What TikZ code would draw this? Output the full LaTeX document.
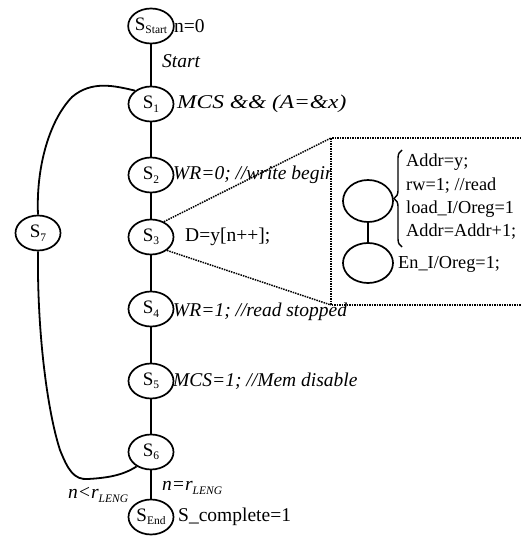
\documentclass[tikz,border=0pt]{standalone}
\usepackage{fontspec}
\setmainfont{Liberation Serif}
\usetikzlibrary{shapes.geometric,decorations.pathreplacing}
\newcommand{\mysub}[1]{\raisebox{-0.4ex}{\fontsize{11.5}{11.5}\selectfont #1}}
\begin{document}
\begin{tikzpicture}[x=1pt,y=-1pt,
  st/.style={ellipse,draw,line width=1.7pt,minimum width=45pt,minimum height=35pt,inner sep=0pt,font=\fontsize{19}{19}\selectfont},
  lbl/.style={anchor=west,inner sep=0pt,font=\fontsize{19.5}{20}\selectfont},
  ilbl/.style={anchor=west,inner sep=0pt,font=\fontsize{19.5}{20}\selectfont\itshape},
  inl/.style={anchor=west,inner sep=0pt,font=\fontsize{18.3}{19}\selectfont},
  edge/.style={line width=1.8pt},
  dots/.style={densely dotted,line width=1.5pt}]
\useasboundingbox (0,0) rectangle (521,540);

% main column
\node[st] (s0) at (151,26) {S\mysub{Start}};
\node[st] (s1) at (151,104) {S\mysub{1}};
\node[st] (s2) at (151,175) {S\mysub{2}};
\node[st] (s3) at (151,237) {S\mysub{3}};
\node[st] (s4) at (151,309) {S\mysub{4}};
\node[st] (s5) at (151,381) {S\mysub{5}};
\node[st] (s6) at (151,452) {S\mysub{6}};
\node[st] (se) at (151,517) {S\mysub{End}};
\node[st] (s7) at (38,233) {S\mysub{7}};

\draw[edge] (s0) -- (s1);
\draw[edge] (s1) -- (s2);
\draw[edge] (s2) -- (s3);
\draw[edge] (s3) -- (s4);
\draw[edge] (s4) -- (s5);
\draw[edge] (s5) -- (s6);
\draw[edge] (s6) -- (se);

% loop through S7
\draw[edge] (s1.140) .. controls (115,86) and (92,80) .. (72,97) .. controls (48,122) and (36,170) .. (s7.north);
\draw[edge] (s7.south) .. controls (37,330) and (47,410) .. (60,450) .. controls (68,470) and (74,480) .. (88,479) .. controls (105,478) and (122,476) .. (s6.225);

% labels
\node[lbl] (t0) at (174,26) {n=0};
\node[ilbl] (t01) at (162,61) {Start};
\node[ilbl] (t1) at (177,104) {\scalebox{1.2}[1]{MCS \&\& (A=\&x)}};
\node[ilbl] (t2) at (173,175) {WR=0; //write begin};
\node[lbl] (t3) at (185,237) {D=y[n++];};
\node[ilbl] (t5) at (173,381) {MCS=1; //Mem disable};
\node[ilbl] (t6) at (162,488) {n=r\mysub{LENG}};
\node[ilbl] (t7) at (68,495) {n<r\mysub{LENG}};
\node[lbl] (t8) at (178,517) {S\_complete=1};

% inset
\coordinate (btl) at (331,138);
\coordinate (bbl) at (331,305);
\coordinate (btr) at (521,138);
\coordinate (bbr) at (521,305);
\fill[white] (btl) rectangle (bbr);
\draw[dots] (btr) -- (btl) -- (bbl) -- (bbr);
\draw[dots] (s3.50) -- (btl);
\draw[dots] (s3.-40) -- (bbl);
\node[ilbl] (t4) at (173,312) {WR=1; //read stopped};

\node[st,minimum width=50pt,minimum height=42pt] (i1) at (368,201) {};
\node[st,minimum width=50pt,minimum height=40pt] (i2) at (368,263) {};
\draw[edge] (i1) -- (i2);
\draw[line width=1.4pt,decorate,decoration={brace,amplitude=8pt}] (402,247) -- (402,150);

\node[inl] (a1) at (406,162) {Addr=y;};
\node[inl] (a2) at (406,186) {rw=1; //read};
\node[inl] (a3) at (406,209) {load\_I/Oreg=1};
\node[inl] (a4) at (406,232) {Addr=Addr+1;};
\node[inl] (a5) at (398,264) {En\_I/Oreg=1;};
\end{tikzpicture}
\end{document}
